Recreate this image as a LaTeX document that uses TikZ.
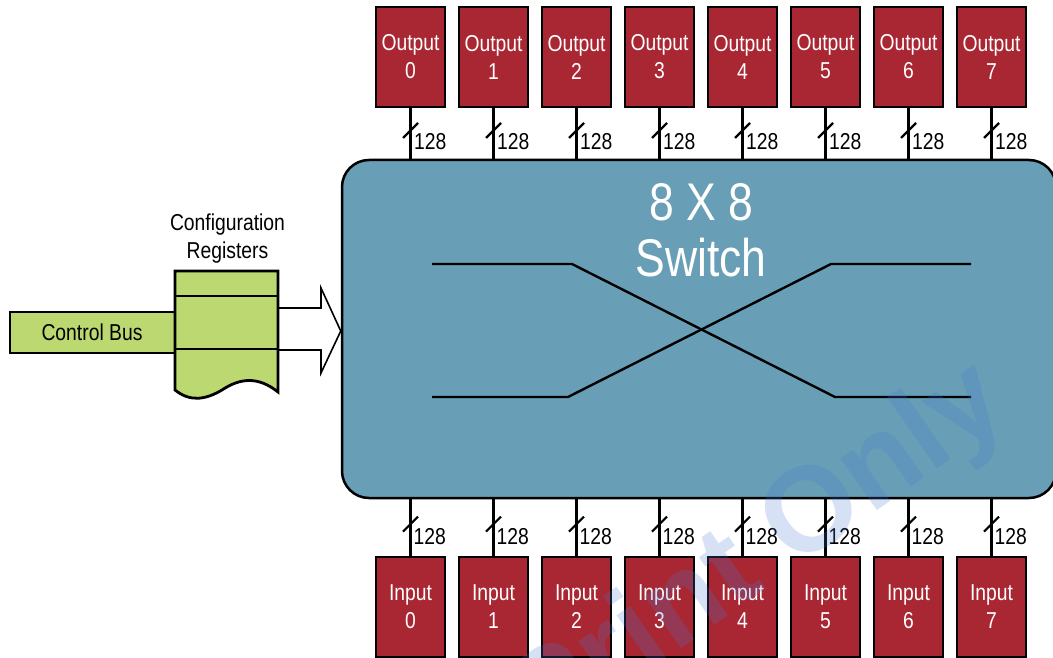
\documentclass[tikz,border=0pt]{standalone}
\usepackage{fontspec}
\setmainfont{Liberation Sans}[FakeStretch=0.84]
\newfontfamily\wmfont{Liberation Sans}
\usetikzlibrary{calc}
\definecolor{boxred}{RGB}{169,39,50}
\definecolor{swblue}{RGB}{104,158,182}
\definecolor{cfggreen}{RGB}{187,216,113}
\definecolor{wmblue}{RGB}{70,120,210}
\tikzset{
  portbox/.style={draw=black, line width=2.5pt, fill=boxred, text=white,
    minimum width=69pt, minimum height=100pt, inner sep=0pt, align=center,
    font=\fontsize{23}{28}\selectfont},
  switchbox/.style={draw=black, line width=2.5pt, fill=swblue,
    minimum width=714pt, minimum height=338pt, rounded corners=27pt, inner sep=0pt},
  bus/.style={line width=2.5pt},
  slashmark/.style={line width=2.2pt},
  widthlabel/.style={anchor=base west, inner sep=0pt, font=\fontsize{23}{28}\selectfont},
  xline/.style={line width=2.4pt, line join=miter},
  cfg/.style={draw=black, line width=2.8pt, fill=cfggreen},
  hollowarrow/.style={draw=black, line width=1.6pt, fill=white, line join=miter},
  plain/.style={inner sep=0pt, align=center, font=\fontsize{23}{28}\selectfont}
}
\begin{document}
\begin{tikzpicture}[x=1pt,y=-1pt]
\useasboundingbox (0,0) rectangle (1053,658);

% switch
\node[switchbox] (sw) at (699,329) {};

% crossing lines
\draw[xline] (432,264) -- (572,264) -- (835,397) -- (971,397);
\draw[xline] (432,397) -- (568,397) -- (831,264) -- (971,264);

% title
\node[text=white, inner sep=0pt, align=center, font=\fontsize{53}{56}\selectfont] (title) at (701,230) {8 X 8\\Switch};

% outputs and inputs
\foreach \i in {0,...,7} {
  \pgfmathsetmacro{\cx}{410.5+83*\i}
  \node[portbox] (o\i) at (\cx,57) {Output\\\i};
  \node[portbox] (in\i) at (\cx,607) {Input\\\i};
  \draw[bus] (o\i.south) -- (o\i.south |- sw.north) coordinate[pos=0.44] (mo\i);
  \draw[slashmark] ([shift={(-7.5,7.5)}]mo\i) -- ([shift={(7.5,-7.5)}]mo\i);
  \node[widthlabel] (lo\i) at ([shift={(3.5,19.5)}]mo\i) {128};
  \draw[bus] (in\i.north |- sw.south) -- (in\i.north) coordinate[pos=0.44] (mi\i);
  \draw[slashmark] ([shift={(-7.5,7.5)}]mi\i) -- ([shift={(7.5,-7.5)}]mi\i);
  \node[widthlabel] (li\i) at ([shift={(3,20)}]mi\i) {128};
}

% control bus
\draw[cfg] (10,312) rectangle (175,353);
\node[plain] (cb) at (92,332) {Control Bus};

% hollow arrow into switch
\coordinate (arrtip) at (sw.west |- 0,331);
\draw[hollowarrow] (278,308) -- (321,308) -- (321,288) -- (arrtip) -- (321,373) -- (321,350) -- (278,350);

% configuration registers
\draw[cfg] (175,271) -- (278,271) -- (278,392)
  .. controls (258,376) and (240,378) .. (222,390)
  .. controls (205,400) and (190,402) .. (175,390) -- cycle;
\draw[cfg] (175,296) -- (278,296);
\draw[cfg] (175,349) -- (278,349);
\node[plain] (cfgtitle) at (227.5,239) {Configuration\\Registers};

% watermark
\node[rotate=35, opacity=0.22, text=wmblue, inner sep=0pt,
  font=\wmfont\bfseries\fontsize{120}{120}\selectfont] (wm) at (760,555) {Print Only};
\end{tikzpicture}
\end{document}
